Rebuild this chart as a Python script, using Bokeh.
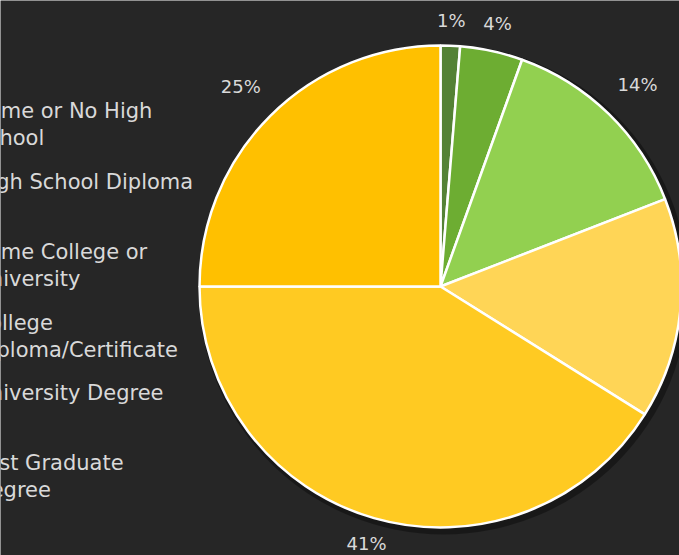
import math
from bokeh.plotting import figure
from bokeh.models import ColumnDataSource
from bokeh.core.properties import value
from bokeh.embed import file_html
from bokeh.resources import INLINE

categories = ["Some or No High School", "High School Diploma", "Some College or University",
              "College Diploma/Certificate", "University Degree", "Post Graduate Degree"]
legend_lines = [["Some or No High", "School"], ["High School Diploma"], ["Some College or", "University"],
                ["College", "Diploma/Certificate"], ["University Degree"], ["Post Graduate", "Degree"]]
shares = [1.3, 4.2, 13.6, 14.8, 41.1, 25.0]
colors = ["#548235", "#6DAD32", "#92D050", "#FFD556", "#FFCA22", "#FFC000"]

W, H = 679, 555
CX, CY = 440, 286
R = 241
BG = "#262626"
TXT = "#D9D9D9"
FONT = "DejaVu Sans"

p = figure(width=W, height=H, x_range=(-CX, W - CX), y_range=(CY - H, CY),
           output_backend="svg", toolbar_location=None, min_border=0,
           background_fill_color=BG, border_fill_color=BG, outline_line_color=None)
p.axis.visible = False
p.grid.visible = False

total = sum(shares)
starts, ends, mids = [], [], []
acc = 0.0
for v in shares:
    a0 = math.pi / 2 - 2 * math.pi * acc / total
    acc += v
    a1 = math.pi / 2 - 2 * math.pi * acc / total
    starts.append(a0)
    ends.append(a1)
    mids.append((a0 + a1) / 2)

# shadow
p.circle(x=[3], y=[-3], radius=R + 4, fill_color="#000000", fill_alpha=0.35, line_color=None)

src = ColumnDataSource(dict(start=starts, end=ends, color=colors, cat=categories))
p.wedge(x=0, y=0, radius=R, start_angle="start", end_angle="end", direction="clock",
        fill_color="color", line_color="white", line_width=2.5, source=src)

# data labels outside the pie edge
labels = [f"{round(v)}%" for v in shares]
lxs, lys = [], []
for m, t in zip(mids, labels):
    hw = 11.5 * len(t)
    hh = 24 if math.sin(m) > 0 else 18
    ext = abs(hw * math.cos(m)) + abs(hh * math.sin(m))
    d = R + ext
    lxs.append(d * math.cos(m))
    lys.append(d * math.sin(m))
lab = ColumnDataSource(dict(x=lxs, y=lys, t=labels))
p.text(x="x", y="y", text="t", source=lab, text_align="center", text_baseline="middle",
       text_color=TXT, text_font=value(FONT), text_font_size="18px")

# legend text (cropped on the left as in the original)
entry_top = [110, 181, 251, 322, 392, 462]
lx, ly, lt = [], [], []
for top, lines in zip(entry_top, legend_lines):
    for i, ln in enumerate(lines):
        lx.append(-26 - CX)
        ly.append(CY - (top + 27 * i))
        lt.append(ln)
p.text(x=lx, y=ly, text=lt, text_align="left", text_baseline="middle",
       text_color=TXT, text_font=value(FONT), text_font_size="21px")

open("out.html", "w").write(file_html(p, INLINE))
